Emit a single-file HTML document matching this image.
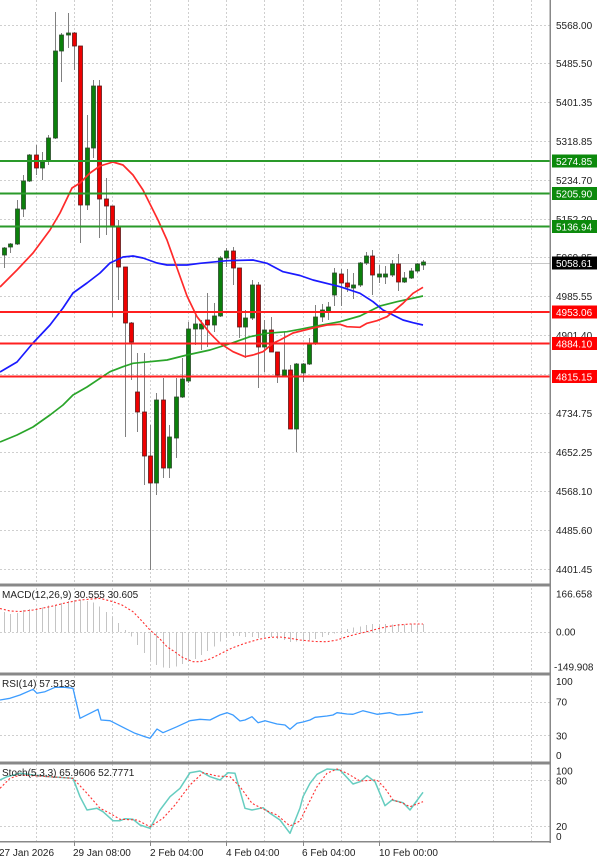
<!DOCTYPE html>
<html><head><meta charset="utf-8"><style>
html,body{margin:0;padding:0;background:#fff;}
svg{display:block;font-family:"Liberation Sans",sans-serif;}
</style></head><body>
<svg width="600" height="858" viewBox="0 0 600 858" xmlns="http://www.w3.org/2000/svg">
<rect width="600" height="858" fill="#fff"/>
<!-- vertical grid -->
<g stroke="#cfcfcf" stroke-width="1" stroke-dasharray="2,2">
<line x1="36.5" y1="0" x2="36.5" y2="841"/><line x1="74.5" y1="0" x2="74.5" y2="841"/><line x1="112.5" y1="0" x2="112.5" y2="841"/><line x1="150.5" y1="0" x2="150.5" y2="841"/><line x1="188.5" y1="0" x2="188.5" y2="841"/><line x1="226.5" y1="0" x2="226.5" y2="841"/><line x1="264.5" y1="0" x2="264.5" y2="841"/><line x1="303.5" y1="0" x2="303.5" y2="841"/><line x1="341.5" y1="0" x2="341.5" y2="841"/><line x1="379.5" y1="0" x2="379.5" y2="841"/><line x1="417.5" y1="0" x2="417.5" y2="841"/><line x1="455.5" y1="0" x2="455.5" y2="841"/><line x1="493.5" y1="0" x2="493.5" y2="841"/><line x1="531.5" y1="0" x2="531.5" y2="841"/>
</g>
<!-- horizontal grid main -->
<g stroke="#cfcfcf" stroke-width="1" stroke-dasharray="2,2">
<line x1="0" y1="25.5" x2="550" y2="25.5"/><line x1="0" y1="63.5" x2="550" y2="63.5"/><line x1="0" y1="102.5" x2="550" y2="102.5"/><line x1="0" y1="141.5" x2="550" y2="141.5"/><line x1="0" y1="180.5" x2="550" y2="180.5"/><line x1="0" y1="219.5" x2="550" y2="219.5"/><line x1="0" y1="257.5" x2="550" y2="257.5"/><line x1="0" y1="296.5" x2="550" y2="296.5"/><line x1="0" y1="335.5" x2="550" y2="335.5"/><line x1="0" y1="374.5" x2="550" y2="374.5"/><line x1="0" y1="413.5" x2="550" y2="413.5"/><line x1="0" y1="452.5" x2="550" y2="452.5"/><line x1="0" y1="491.5" x2="550" y2="491.5"/><line x1="0" y1="530.5" x2="550" y2="530.5"/><line x1="0" y1="569.5" x2="550" y2="569.5"/>
<line x1="0" y1="632.5" x2="550" y2="632.5"/>
<line x1="0" y1="702.5" x2="550" y2="702.5"/><line x1="0" y1="735.5" x2="550" y2="735.5"/>
<line x1="0" y1="780.5" x2="550" y2="780.5"/><line x1="0" y1="826.5" x2="550" y2="826.5"/>
</g>
<!-- bid line -->
<line x1="0" y1="263.5" x2="550" y2="263.5" stroke="#c8c8c8" stroke-width="1"/>
<!-- wicks -->
<g stroke="#808080" stroke-width="1">
<line x1="4.5" y1="247" x2="4.5" y2="268"/><line x1="10.5" y1="243" x2="10.5" y2="253"/><line x1="17.5" y1="200" x2="17.5" y2="245"/><line x1="23.5" y1="175" x2="23.5" y2="217"/><line x1="29.5" y1="154" x2="29.5" y2="182"/><line x1="36.5" y1="145" x2="36.5" y2="175"/><line x1="42.5" y1="152" x2="42.5" y2="180"/><line x1="48.5" y1="135" x2="48.5" y2="165"/><line x1="55.5" y1="12" x2="55.5" y2="139"/><line x1="61.5" y1="33" x2="61.5" y2="82"/><line x1="68.5" y1="13" x2="68.5" y2="48"/><line x1="74.5" y1="32" x2="74.5" y2="70"/><line x1="80.5" y1="46" x2="80.5" y2="243"/><line x1="87.5" y1="115" x2="87.5" y2="210"/><line x1="93.5" y1="80" x2="93.5" y2="158"/><line x1="99.5" y1="80" x2="99.5" y2="238"/><line x1="106.5" y1="178" x2="106.5" y2="235"/><line x1="112.5" y1="206" x2="112.5" y2="317"/><line x1="118.5" y1="220" x2="118.5" y2="300"/><line x1="125.5" y1="267" x2="125.5" y2="437"/><line x1="131.5" y1="322" x2="131.5" y2="380"/><line x1="137.5" y1="353" x2="137.5" y2="432"/><line x1="144.5" y1="353" x2="144.5" y2="485"/><line x1="150.5" y1="425" x2="150.5" y2="570"/><line x1="156.5" y1="393" x2="156.5" y2="495"/><line x1="163.5" y1="378" x2="163.5" y2="478"/><line x1="169.5" y1="425" x2="169.5" y2="478"/><line x1="176.5" y1="378" x2="176.5" y2="458"/><line x1="182.5" y1="358" x2="182.5" y2="398"/><line x1="188.5" y1="322" x2="188.5" y2="383"/><line x1="195.5" y1="315" x2="195.5" y2="345"/><line x1="201.5" y1="320" x2="201.5" y2="350"/><line x1="207.5" y1="293" x2="207.5" y2="347"/><line x1="214.5" y1="303" x2="214.5" y2="332"/><line x1="220.5" y1="256" x2="220.5" y2="317"/><line x1="226.5" y1="248" x2="226.5" y2="267"/><line x1="233.5" y1="247" x2="233.5" y2="285"/><line x1="239.5" y1="268" x2="239.5" y2="338"/><line x1="245.5" y1="310" x2="245.5" y2="358"/><line x1="252.5" y1="280" x2="252.5" y2="320"/><line x1="258.5" y1="282" x2="258.5" y2="388"/><line x1="264.5" y1="320" x2="264.5" y2="372"/><line x1="271.5" y1="317" x2="271.5" y2="352"/><line x1="277.5" y1="352" x2="277.5" y2="383"/><line x1="284.5" y1="332" x2="284.5" y2="377"/><line x1="290.5" y1="365" x2="290.5" y2="429"/><line x1="296.5" y1="363" x2="296.5" y2="452"/><line x1="303.5" y1="363" x2="303.5" y2="382"/><line x1="309.5" y1="338" x2="309.5" y2="365"/><line x1="315.5" y1="305" x2="315.5" y2="345"/><line x1="322.5" y1="304" x2="322.5" y2="322"/><line x1="328.5" y1="302" x2="328.5" y2="320"/><line x1="334.5" y1="268" x2="334.5" y2="306"/><line x1="341.5" y1="269" x2="341.5" y2="306"/><line x1="347.5" y1="269" x2="347.5" y2="292"/><line x1="353.5" y1="273" x2="353.5" y2="299"/><line x1="360.5" y1="262" x2="360.5" y2="287"/><line x1="366.5" y1="252" x2="366.5" y2="265"/><line x1="372.5" y1="250" x2="372.5" y2="295"/><line x1="379.5" y1="265" x2="379.5" y2="283"/><line x1="385.5" y1="266" x2="385.5" y2="284"/><line x1="392.5" y1="260" x2="392.5" y2="277"/><line x1="398.5" y1="254" x2="398.5" y2="291"/><line x1="404.5" y1="272" x2="404.5" y2="283"/><line x1="411.5" y1="268" x2="411.5" y2="279"/><line x1="417.5" y1="263" x2="417.5" y2="273"/><line x1="423.5" y1="260" x2="423.5" y2="270"/>
</g>
<!-- bull bodies -->
<g fill="#0b800b" stroke="#2a4a2a" stroke-width="0.8">
<rect x="2.5" y="248" width="4" height="7"/><rect x="8.5" y="244" width="4" height="3"/><rect x="15.5" y="209" width="4" height="35"/><rect x="21.5" y="181" width="4" height="28"/><rect x="27.5" y="155" width="4" height="26"/><rect x="40.5" y="162" width="4" height="6"/><rect x="46.5" y="138" width="4" height="23"/><rect x="53.5" y="51" width="4" height="87"/><rect x="59.5" y="35" width="4" height="16"/><rect x="66.5" y="33" width="4" height="2"/><rect x="85.5" y="148" width="4" height="57"/><rect x="91.5" y="86" width="4" height="62"/><rect x="154.5" y="400" width="4" height="83"/><rect x="167.5" y="437" width="4" height="31"/><rect x="174.5" y="397" width="4" height="41"/><rect x="180.5" y="379" width="4" height="18"/><rect x="186.5" y="329" width="4" height="52"/><rect x="193.5" y="324" width="4" height="5"/><rect x="199.5" y="324" width="4" height="5"/><rect x="212.5" y="316" width="4" height="9"/><rect x="218.5" y="258" width="4" height="58"/><rect x="224.5" y="251" width="4" height="7"/><rect x="243.5" y="318" width="4" height="9"/><rect x="250.5" y="285" width="4" height="33"/><rect x="262.5" y="330" width="4" height="17"/><rect x="282.5" y="370" width="4" height="6"/><rect x="294.5" y="364" width="4" height="65"/><rect x="301.5" y="364" width="4" height="9"/><rect x="307.5" y="344" width="4" height="20"/><rect x="313.5" y="317" width="4" height="27"/><rect x="320.5" y="310" width="4" height="7"/><rect x="326.5" y="307" width="4" height="5"/><rect x="332.5" y="273" width="4" height="22"/><rect x="351.5" y="285" width="4" height="3"/><rect x="358.5" y="263" width="4" height="22"/><rect x="364.5" y="256" width="4" height="7"/><rect x="377.5" y="274" width="4" height="3"/><rect x="383.5" y="274" width="4" height="3"/><rect x="390.5" y="264" width="4" height="11"/><rect x="402.5" y="278" width="4" height="4"/><rect x="409.5" y="271" width="4" height="7"/><rect x="415.5" y="264" width="4" height="7"/><rect x="421.5" y="262" width="4" height="3"/>
</g>
<!-- bear bodies -->
<g fill="#ee0000" stroke="#5a1a1a" stroke-width="0.8">
<rect x="34.5" y="155" width="4" height="13"/><rect x="72.5" y="33" width="4" height="13"/><rect x="78.5" y="46" width="4" height="159"/><rect x="97.5" y="86" width="4" height="113"/><rect x="104.5" y="199" width="4" height="7"/><rect x="110.5" y="206" width="4" height="21"/><rect x="116.5" y="227" width="4" height="40"/><rect x="123.5" y="267" width="4" height="56"/><rect x="129.5" y="323" width="4" height="19"/><rect x="135.5" y="392" width="4" height="20"/><rect x="142.5" y="412" width="4" height="44"/><rect x="148.5" y="456" width="4" height="27"/><rect x="161.5" y="400" width="4" height="68"/><rect x="205.5" y="320" width="4" height="5"/><rect x="231.5" y="251" width="4" height="17"/><rect x="237.5" y="268" width="4" height="59"/><rect x="256.5" y="285" width="4" height="62"/><rect x="269.5" y="330" width="4" height="22"/><rect x="275.5" y="352" width="4" height="23"/><rect x="288.5" y="370" width="4" height="59"/><rect x="339.5" y="274" width="4" height="9"/><rect x="345.5" y="283" width="4" height="4"/><rect x="370.5" y="256" width="4" height="19"/><rect x="396.5" y="264" width="4" height="18"/>
</g>
<!-- moving averages -->
<g fill="none" stroke-width="1.7" stroke-linejoin="round">
<polyline stroke="#1fa01f" stroke-opacity="0.95" points="0,442 17,435 33,427 50,415 63,405 73,395 87,387 100,378.3 110,371.7 123,366.7 133,363.3 167,360 187,355 210,350 233,342.7 250,336.7 267,333.3 287,331.7 300,329.3 313,326.7 340,321.7 360,316 380,306 397,301.7 423,296"/>
<polyline stroke="#1a1aff" points="0,372 17,362 33,343 50,325 63,308 73,293 87,283 100,273 110,263 123,257 133,256 143,258 157,263 167,265 187,265 200,263.3 227,260.7 253,260 267,263.3 283,271.7 300,275.5 313,280 340,286.7 360,293.3 373,301.7 383,310 393,315 403,320 413,322.7 423,325"/>
<polyline stroke="#ff2a2a" points="0,287 17,270 33,253 50,230 60,213 72,188 80,183 90,173 100,166 113,162 123,165 133,175 143,190 158,220 167,240 177,268 187,296 197,316.7 210,333.3 220,343.3 233,351.7 245,356.7 253,355 263,351.7 273,343.3 280,340 293,333 313,328 327,325 340,324.3 347,326.7 360,327.3 367,323.3 377,320.7 387,316.7 393,311.7 403,303.3 413,293.3 423,287.3"/>
</g>
<!-- horizontal levels -->
<g stroke-width="2">
<line x1="0" y1="161" x2="551" y2="161" stroke="#2a9a2a"/>
<line x1="0" y1="193.5" x2="551" y2="193.5" stroke="#2a9a2a"/>
<line x1="0" y1="226.5" x2="551" y2="226.5" stroke="#2a9a2a"/>
<line x1="0" y1="312" x2="551" y2="312" stroke="#ff2020"/>
<line x1="0" y1="343.5" x2="551" y2="343.5" stroke="#ff2020"/>
<line x1="0" y1="376.5" x2="551" y2="376.5" stroke="#ff2020"/>
</g>
<!-- MACD histogram -->
<g stroke="#c4c4c4" stroke-width="1">
<line x1="4.5" y1="632" x2="4.5" y2="612"/><line x1="10.5" y1="632" x2="10.5" y2="614"/><line x1="17.5" y1="632" x2="17.5" y2="613"/><line x1="23.5" y1="632" x2="23.5" y2="610"/><line x1="29.5" y1="632" x2="29.5" y2="609"/><line x1="36.5" y1="632" x2="36.5" y2="608"/><line x1="42.5" y1="632" x2="42.5" y2="607.5"/><line x1="48.5" y1="632" x2="48.5" y2="605.5"/><line x1="55.5" y1="632" x2="55.5" y2="605"/><line x1="61.5" y1="632" x2="61.5" y2="603"/><line x1="68.5" y1="632" x2="68.5" y2="601"/><line x1="74.5" y1="632" x2="74.5" y2="600"/><line x1="80.5" y1="632" x2="80.5" y2="600"/><line x1="87.5" y1="632" x2="87.5" y2="601"/><line x1="93.5" y1="632" x2="93.5" y2="602.5"/><line x1="99.5" y1="632" x2="99.5" y2="606.5"/><line x1="106.5" y1="632" x2="106.5" y2="612"/><line x1="112.5" y1="632" x2="112.5" y2="616.5"/><line x1="118.5" y1="632" x2="118.5" y2="623"/><line x1="125.5" y1="632" x2="125.5" y2="630"/>
<line x1="131.5" y1="632" x2="131.5" y2="636.5"/><line x1="137.5" y1="632" x2="137.5" y2="645"/><line x1="144.5" y1="632" x2="144.5" y2="653"/><line x1="150.5" y1="632" x2="150.5" y2="660"/><line x1="156.5" y1="632" x2="156.5" y2="665"/><line x1="163.5" y1="632" x2="163.5" y2="667.5"/><line x1="169.5" y1="632" x2="169.5" y2="668"/><line x1="176.5" y1="632" x2="176.5" y2="666.5"/><line x1="182.5" y1="632" x2="182.5" y2="664"/><line x1="188.5" y1="632" x2="188.5" y2="662"/><line x1="195.5" y1="632" x2="195.5" y2="659"/><line x1="201.5" y1="632" x2="201.5" y2="655"/><line x1="207.5" y1="632" x2="207.5" y2="651"/><line x1="214.5" y1="632" x2="214.5" y2="646.5"/><line x1="220.5" y1="632" x2="220.5" y2="641.5"/><line x1="226.5" y1="632" x2="226.5" y2="638"/><line x1="233.5" y1="632" x2="233.5" y2="636"/><line x1="239.5" y1="632" x2="239.5" y2="636"/><line x1="245.5" y1="632" x2="245.5" y2="637"/><line x1="252.5" y1="632" x2="252.5" y2="637"/><line x1="258.5" y1="632" x2="258.5" y2="638"/><line x1="264.5" y1="632" x2="264.5" y2="637"/><line x1="271.5" y1="632" x2="271.5" y2="637"/><line x1="277.5" y1="632" x2="277.5" y2="639"/><line x1="284.5" y1="632" x2="284.5" y2="640"/><line x1="290.5" y1="632" x2="290.5" y2="642"/><line x1="296.5" y1="632" x2="296.5" y2="641.5"/><line x1="303.5" y1="632" x2="303.5" y2="641"/><line x1="309.5" y1="632" x2="309.5" y2="640"/><line x1="315.5" y1="632" x2="315.5" y2="639"/><line x1="322.5" y1="632" x2="322.5" y2="637"/><line x1="328.5" y1="632" x2="328.5" y2="635"/><line x1="334.5" y1="632" x2="334.5" y2="633.5"/>
<line x1="341.5" y1="632" x2="341.5" y2="630.5"/><line x1="347.5" y1="632" x2="347.5" y2="629"/><line x1="353.5" y1="632" x2="353.5" y2="627.5"/><line x1="360.5" y1="632" x2="360.5" y2="626.5"/><line x1="366.5" y1="632" x2="366.5" y2="625"/><line x1="372.5" y1="632" x2="372.5" y2="624"/><line x1="379.5" y1="632" x2="379.5" y2="624"/><line x1="385.5" y1="632" x2="385.5" y2="624"/><line x1="392.5" y1="632" x2="392.5" y2="624.5"/><line x1="398.5" y1="632" x2="398.5" y2="624"/><line x1="404.5" y1="632" x2="404.5" y2="624.5"/><line x1="411.5" y1="632" x2="411.5" y2="624"/><line x1="417.5" y1="632" x2="417.5" y2="624"/><line x1="423.5" y1="632" x2="423.5" y2="624"/>
</g>
<!-- MACD signal -->
<polyline fill="none" stroke="#ff3030" stroke-width="1.1" stroke-dasharray="2,2" points="0,608.5 10,611 20,611.5 33,610 50,606.7 65,603 80,600 100,598.3 113,601.7 122,605 133,611.7 140,619 150,630 160,639 167,646.7 175,652 183,657.7 193,661.7 200,661.7 210,659 220,654 232,648 245,643.3 258,639.5 270,637.3 280,637 290,638.3 300,640 315,641.5 327,641.7 337,640 347,636.7 357,634 367,631.7 377,629 387,626.7 398,625 410,624 423,624"/>
<!-- RSI -->
<polyline fill="none" stroke="#3c9cff" stroke-width="1.3" stroke-linejoin="round" points="0,700 10,698.3 20,695 33,689.3 37,693.3 45,691.7 55,687.3 65,687.3 73,688.3 80,718.3 90,713.3 98,709.3 101,720 110,720.7 125,728.3 135,733.3 145,736.7 150,738.3 157,729 163,732.7 177,726.7 190,720.7 200,719.3 210,720 220,715 227,712.7 233,715 240,721 245,720 252,716.7 258,722.7 265,720.7 277,724 285,725 290,729.3 297,723.3 303,722 310,720 315,717.3 327,716 333,715 337,712.7 347,714 353,714.3 363,710.7 377,714.3 390,712.7 398,715 408,714.3 417,712.7 423,712"/>
<!-- Stoch -->
<polyline fill="none" stroke="#66cdc0" stroke-width="1.5" stroke-linejoin="round" points="0,780 7,776.7 20,773.3 33,775 50,776.7 73,778.3 80,796.7 87,810 97,808.3 103,811.7 113,820.7 120,820.7 125,818.7 133,819.3 140,825 150,828.3 160,810 170,796.7 180,788.3 190,772.7 200,771 210,776.7 220,780 228,772.7 235,773.3 245,808.3 252,810 263,807.7 270,813.3 280,820 290,833.3 300,808 303,796.7 310,783.3 317,774.3 327,769 340,770 353,784 360,781.7 367,775.7 375,781.7 385,805.7 392,800 403,802.7 410,810 423,792.3"/>
<polyline fill="none" stroke="#ff3030" stroke-width="1.1" stroke-dasharray="2,2" points="0,788.3 10,778.3 20,775 50,776.7 73,778.3 87,793.3 100,808.3 110,813.3 120,819.3 137,820 150,826.7 163,818.3 175,805 190,785 203,772.7 217,776 230,776.7 240,786.7 252,803.3 265,810 277,815 290,826 300,821 307,806.7 317,786.7 327,773.3 337,769 347,773.3 360,781 377,780 385,788.3 393,800 403,803.3 410,806.7 423,801.7"/>
<!-- panel separators & axes -->
<rect x="0" y="583.5" width="551" height="3" fill="#888"/>
<rect x="0" y="672.5" width="551" height="3" fill="#888"/>
<rect x="0" y="761.5" width="551" height="3" fill="#888"/>
<rect x="0" y="841" width="551" height="1.5" fill="#888"/>
<rect x="549.5" y="0" width="1.5" height="843" fill="#888"/>
<g stroke="#888" stroke-width="1">
<line x1="74.5" y1="842" x2="74.5" y2="846"/><line x1="150.5" y1="842" x2="150.5" y2="846"/><line x1="226.5" y1="842" x2="226.5" y2="846"/><line x1="303.5" y1="842" x2="303.5" y2="846"/><line x1="379.5" y1="842" x2="379.5" y2="846"/>
</g>
<!-- right axis labels -->
<g font-size="10" fill="#222">
<text x="556" y="29">5568.00</text><text x="556" y="67">5485.50</text><text x="556" y="106">5401.35</text><text x="556" y="145">5318.85</text><text x="556" y="184">5234.70</text><text x="556" y="223">5152.20</text><text x="556" y="261">5069.85</text><text x="556" y="300">4985.55</text><text x="556" y="339">4901.40</text><text x="556" y="378">4818.05</text><text x="556" y="417">4734.75</text><text x="556" y="456">4652.25</text><text x="556" y="495">4568.10</text><text x="556" y="534">4485.60</text><text x="556" y="573">4401.45</text>
<text x="556" y="597.5">166.658</text><text x="556" y="635.5">0.00</text><text x="554" y="670.5">-149.908</text>
<text x="556" y="685">100</text><text x="556" y="705.5">70</text><text x="556" y="739.5">30</text><text x="556" y="759">0</text>
<text x="556" y="774.5">100</text><text x="556" y="784.5">80</text><text x="556" y="830">20</text><text x="556" y="840">0</text>
</g>
<!-- level labels -->
<g font-size="10" fill="#fff">
<rect x="552" y="154.5" width="45" height="13" fill="#0c8a0c"/><text x="556" y="165">5274.85</text>
<rect x="552" y="187" width="45" height="13" fill="#0c8a0c"/><text x="556" y="197.5">5205.90</text>
<rect x="552" y="220" width="45" height="13" fill="#0c8a0c"/><text x="556" y="230.5">5136.94</text>
<rect x="552" y="256.5" width="45" height="13" fill="#000"/><text x="556" y="267">5058.61</text>
<rect x="552" y="305.5" width="45" height="13" fill="#f00"/><text x="556" y="316">4953.06</text>
<rect x="552" y="337" width="45" height="13" fill="#f00"/><text x="556" y="347.5">4884.10</text>
<rect x="552" y="370" width="45" height="13" fill="#f00"/><text x="556" y="380.5">4815.15</text>
</g>
<!-- indicator titles -->
<g font-size="10" fill="#222">
<text x="2" y="598">MACD(12,26,9) 30.555 30.605</text>
<text x="2" y="687">RSI(14) 57.5133</text>
<text x="2" y="776">Stoch(5,3,3) 65.9606 52.7771</text>
</g>
<!-- time labels -->
<g font-size="10" fill="#222">
<text x="-1" y="856">27 Jan 2026</text>
<text x="73" y="856">29 Jan 08:00</text>
<text x="150" y="856">2 Feb 04:00</text>
<text x="226" y="856">4 Feb 04:00</text>
<text x="302" y="856">6 Feb 04:00</text>
<text x="379" y="856">10 Feb 00:00</text>
</g>
</svg>
</body></html>
